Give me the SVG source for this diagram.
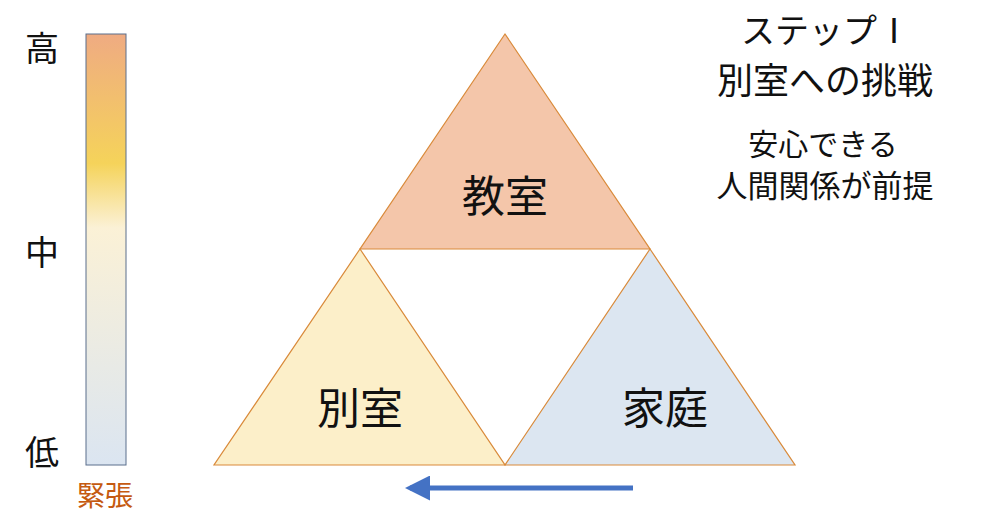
<svg xmlns="http://www.w3.org/2000/svg" width="1000" height="526" viewBox="0 0 1000 526">
<style>
text{font-family:"Noto Sans CJK JP","Noto Sans",sans-serif;fill:#111;text-anchor:middle;dominant-baseline:central}
.tri{stroke:#D98A3A;stroke-width:1.2}
</style>
<defs>
<linearGradient id="g" x1="0" y1="0" x2="0" y2="1">
<stop offset="0" stop-color="#EFAB82"/>
<stop offset="0.3" stop-color="#F5D35A"/>
<stop offset="0.45" stop-color="#FBF1D6"/>
<stop offset="1" stop-color="#DBE5F1"/>
</linearGradient>
<marker id="ah" markerWidth="5" markerHeight="5" refX="4" refY="2.5" orient="auto" markerUnits="strokeWidth"><path d="M0,0L5,2.5L0,5z" fill="#4472C4"/></marker>
</defs>
<g id="scale">
<rect x="86" y="34" width="40" height="431" fill="url(#g)" stroke="#5A6E8C" stroke-width="1"/>
<text x="42" y="46" font-size="34">高</text>
<text x="42" y="250" font-size="34">中</text>
<text x="42" y="450" font-size="34">低</text>
<text x="105" y="494" font-size="28" style="fill:#C55A11">緊張</text>
</g>
<g id="kyoshitsu"><polygon class="tri" points="505,34 650,249 360,249" fill="#F4C6AA"/><text x="505" y="193" font-size="43">教室</text></g>
<g id="besshitsu"><polygon class="tri" points="360,249 505,465 214,465" fill="#FCEFC9"/><text x="360" y="405" font-size="43">別室</text></g>
<g id="katei"><polygon class="tri" points="650,249 795,465 505,465" fill="#DCE6F1"/><text x="665" y="405" font-size="43">家庭</text></g>
<g id="connectors"><line x1="633" y1="488" x2="410" y2="488" stroke="#4472C4" stroke-width="5" marker-end="url(#ah)"/></g>
<g id="notes">
<text x="826" y="28" font-size="34">ステップⅠ</text>
<text x="825" y="78" font-size="36">別室への挑戦</text>
<text x="823" y="142" font-size="30">安心できる</text>
<text x="825" y="183" font-size="31">人間関係が前提</text>
</g>
</svg>
